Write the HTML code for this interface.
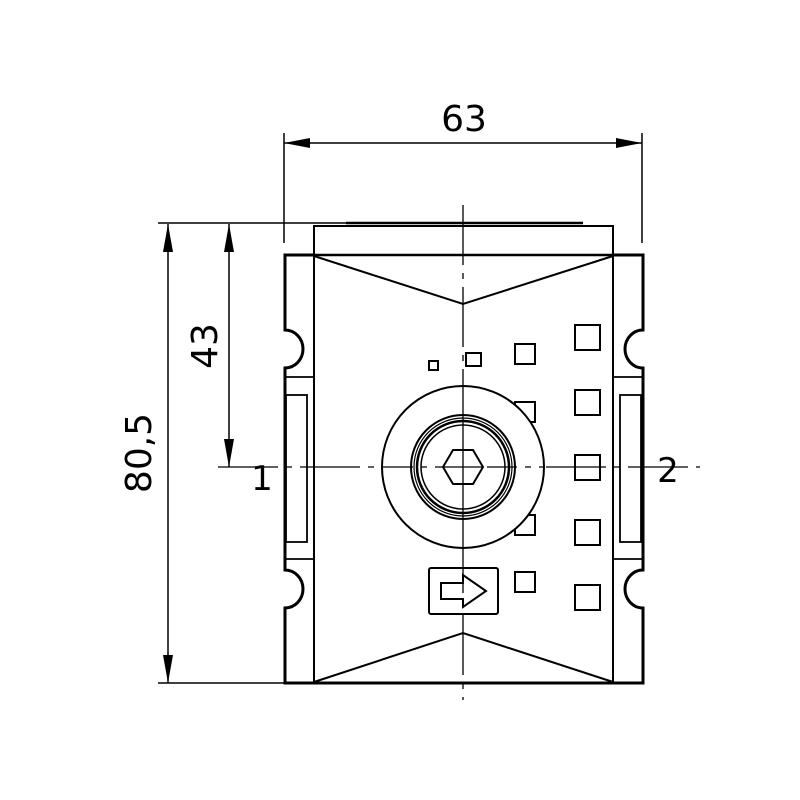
<!DOCTYPE html>
<html><head><style>body{margin:0;background:#fff}svg{display:block}</style></head><body>
<svg width="800" height="800" viewBox="0 0 800 800" xmlns="http://www.w3.org/2000/svg" font-family="'DejaVu Sans','Liberation Sans',sans-serif">
<rect width="800" height="800" fill="#fff"/>
<g stroke="#000" fill="none">
<line x1="284" y1="133" x2="284" y2="243" stroke-width="1.5"/>
<line x1="642" y1="133" x2="642" y2="243" stroke-width="1.5"/>
<line x1="284" y1="143" x2="642" y2="143" stroke-width="1.5"/>
<line x1="158" y1="223" x2="346" y2="223" stroke-width="1.5"/>
<line x1="158" y1="683" x2="286" y2="683" stroke-width="1.5"/>
<line x1="168" y1="224" x2="168" y2="683" stroke-width="1.5"/>
<line x1="229" y1="224" x2="229" y2="467" stroke-width="1.5"/>
<line x1="463" y1="205" x2="463" y2="700" stroke-width="1.3" stroke-dasharray="60,8,6,8"/>
<line x1="218" y1="467" x2="700" y2="467" stroke-width="1.3" stroke-dasharray="60,8,6,8"/>
<rect x="314" y="226" width="299" height="29" stroke-width="2"/>
<line x1="346" y1="223" x2="583" y2="223" stroke-width="2.5"/>
<path d="M314 255 H285 V330 A18 19 0 0 1 285 368 V570 A18 19 0 0 1 285 608 V683 H643 V608 A18 19 0 0 1 643 570 V368 A18 19 0 0 1 643 330 V255 H613" stroke-width="3"/>
<line x1="285" y1="255" x2="643" y2="255" stroke-width="2.5"/>
<line x1="314" y1="255" x2="314" y2="683" stroke-width="2"/>
<line x1="613" y1="255" x2="613" y2="683" stroke-width="2"/>
<polyline points="314,256 463,304 613,256" stroke-width="2"/>
<polyline points="314,682 463,633 613,682" stroke-width="2"/>
<line x1="285" y1="377" x2="314" y2="377" stroke-width="1.8"/>
<line x1="285" y1="559" x2="314" y2="559" stroke-width="1.8"/>
<rect x="286" y="395" width="21" height="147" stroke-width="1.8"/>
<line x1="613" y1="377" x2="643" y2="377" stroke-width="1.8"/>
<line x1="613" y1="559" x2="643" y2="559" stroke-width="1.8"/>
<rect x="620" y="395" width="21" height="147" stroke-width="1.8"/>
<g stroke-width="2">
<rect x="575" y="325" width="25" height="25"/>
<rect x="575" y="390" width="25" height="25"/>
<rect x="575" y="455" width="25" height="25"/>
<rect x="575" y="520" width="25" height="25"/>
<rect x="575" y="585" width="25" height="25"/>
<rect x="515" y="344" width="20" height="20"/>
<rect x="515" y="402" width="20" height="20"/>
<rect x="515" y="515" width="20" height="20"/>
<rect x="515" y="572" width="20" height="20"/>
<rect x="466" y="353" width="15" height="13"/>
<rect x="429" y="361" width="9" height="9"/>
<rect x="429" y="568" width="69" height="46" rx="2"/>
<path d="M441 583 H463 V575 L486 591 L463 607 V599 H441 Z"/>
</g>
<circle cx="463" cy="467" r="81" fill="#fff" stroke-width="2"/>
<line x1="463" y1="386" x2="463" y2="548" stroke-width="1.3"/>
<line x1="383" y1="467" x2="543" y2="467" stroke-width="1.3" stroke-dasharray="30,8,6,8"/>
<circle cx="463" cy="467" r="52" stroke-width="2"/>
<circle cx="463" cy="467" r="49" stroke-width="1.2"/>
<circle cx="463" cy="467" r="46" stroke-width="2.5"/>
<circle cx="463" cy="467" r="42" stroke-width="1.5"/>
<polygon points="443,467 453,450 473,450 483,467 473,484 453,484" stroke-width="2" fill="#fff"/>
<line x1="443" y1="467" x2="483" y2="467" stroke-width="1.3"/>
<line x1="463" y1="450" x2="463" y2="484" stroke-width="1.3"/>
</g>
<g fill="#000">
<polygon points="284,143 310,138 310,148"/>
<polygon points="642,143 616,138 616,148"/>
<polygon points="168,224 163,252 173,252"/>
<polygon points="168,683 163,655 173,655"/>
<polygon points="229,224 224,252 234,252"/>
<polygon points="229,467 224,439 234,439"/>
</g>
<g font-size="36" fill="#000">
<text x="464" y="131" text-anchor="middle">63</text>
<text transform="translate(151,453) rotate(-90)" text-anchor="middle">80,5</text>
<text transform="translate(217,346) rotate(-90)" text-anchor="middle">43</text>
<text x="262" y="490" text-anchor="middle" font-size="34">1</text>
<text x="668" y="482" text-anchor="middle" font-size="34">2</text>
</g>
</svg>
</body></html>
